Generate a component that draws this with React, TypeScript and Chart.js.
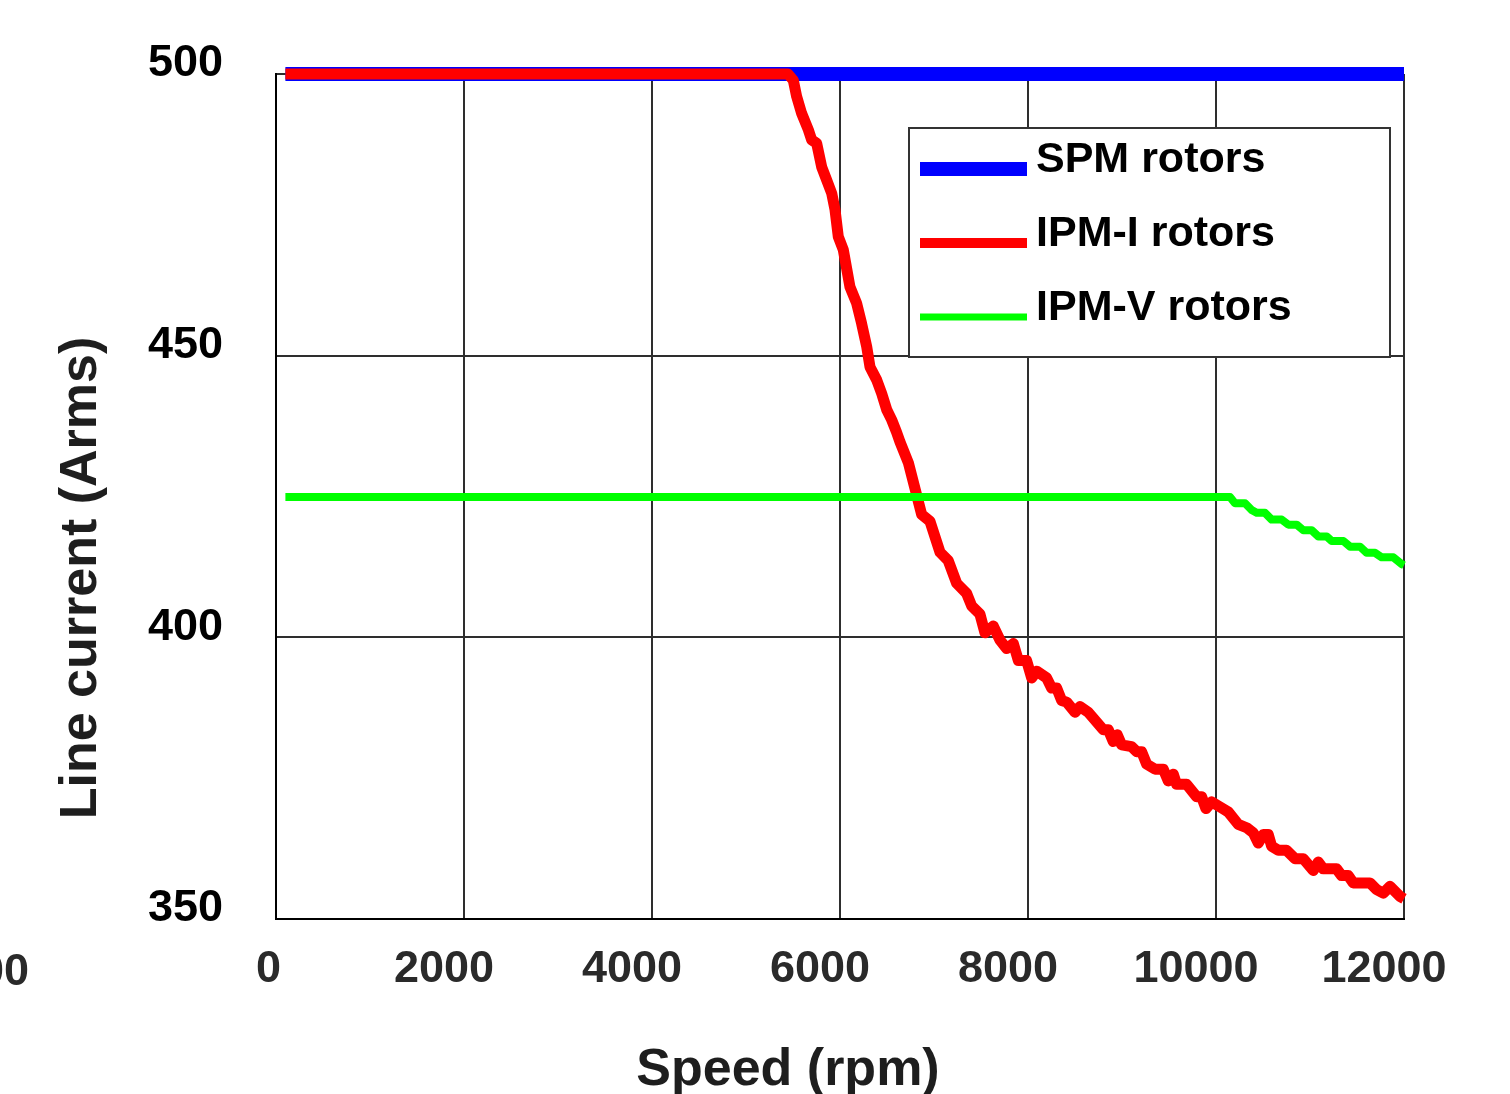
import React, { useEffect, useRef } from "react";
import { Chart, registerables } from "chart.js";

Chart.register(...registerables);

// ---------- data ----------
const seriesLabels = ["SPM rotors", "IPM-I rotors", "IPM-V rotors"];
const seriesColors = ["#0000ff", "#ff0000", "#00ff00"];

const spmSpeed = [100, 12000];
const spmCurrent = [500, 500];

const ipmISpeed = [
  100, 5447, 5503, 5539, 5592, 5663, 5699, 5752, 5805, 5858, 5912, 5947, 5982, 6035, 6106, 6177,
  6230, 6284, 6319, 6390, 6443, 6497, 6550, 6600, 6638, 6727, 6869, 6957, 7064, 7152, 7241, 7347,
  7400, 7489, 7542, 7631, 7702, 7773, 7844, 7897, 7985, 8039, 8092, 8198, 8251, 8305, 8358, 8411,
  8500, 8553, 8641, 8801, 8854, 8907, 8950, 8996, 9102, 9156, 9209, 9262, 9351, 9439, 9493, 9546,
  9581, 9688, 9794, 9847, 9893, 9954, 10042, 10131, 10237, 10326, 10397, 10450, 10503, 10556, 10592,
  10663, 10751, 10840, 10929, 11035, 11088, 11141, 11283, 11336, 11407, 11460, 11638, 11709, 11780,
  11851, 11957, 12000,
];
const ipmICurrent = [
  500, 500, 498.9, 496.0, 493.0, 490.1, 488.3, 487.7, 483.5, 481.2, 478.8, 475.9, 471.1, 468.8, 462.2,
  459.3, 455.7, 451.6, 448.0, 445.7, 443.3, 440.4, 438.6, 436.5, 434.7, 431.0, 421.8, 420.6, 415.1,
  413.6, 409.6, 407.8, 405.6, 404.1, 400.8, 402.0, 399.5, 398.0, 398.9, 395.9, 395.9, 392.8, 394.0,
  392.8, 391.0, 391.0, 388.8, 388.5, 386.7, 387.7, 386.7, 383.6, 383.6, 381.5, 382.7, 380.9, 380.6,
  379.7, 379.7, 377.5, 376.6, 376.6, 374.5, 375.7, 373.9, 373.9, 371.7, 371.7, 369.6, 370.8, 369.9,
  369.0, 366.8, 366.2, 365.3, 363.5, 365.0, 365.0, 362.9, 362.2, 362.2, 360.7, 360.7, 358.6, 360.1,
  358.9, 358.9, 357.7, 357.7, 356.4, 356.4, 355.2, 354.6, 355.8, 354.0, 353.6,
];

const ipmVSpeed = [
  100, 10149, 10202, 10309, 10379, 10433, 10521, 10592, 10699, 10769, 10858, 10929, 11018, 11089,
  11178, 11231, 11355, 11426, 11532, 11603, 11692, 11763, 11887, 11976, 12000,
];
const ipmVCurrent = [
  424.9, 424.9, 423.8, 423.8, 422.6, 422.1, 422.1, 420.9, 420.9, 420.0, 420.0, 419.0, 419.0, 417.9,
  417.9, 417.1, 417.1, 416.1, 416.1, 415.0, 415.0, 414.2, 414.2, 413.0, 412.8,
];

const xMin = 0;
const xMax = 12000;
const xStep = 2000;
const yMin = 350;
const yMax = 500;
const yStep = 50;

const xTitle = "Speed (rpm)";
const yTitle = "Line current (Arms)";
const strayLabel = "00";

const FONT = "'Liberation Sans', Arial, Helvetica, sans-serif";

const pts = (xs: number[], ys: number[]) => xs.map((x, i) => ({ x, y: ys[i] }));

const overlayPlugin = {
  id: "overlay",
  afterDraw(chart: any) {
    const ctx = chart.ctx as CanvasRenderingContext2D;
    ctx.save();
    // axis titles
    ctx.fillStyle = "#1e1e1e";
    ctx.font = `bold 52px ${FONT}`;
    ctx.textAlign = "center";
    ctx.textBaseline = "alphabetic";
    ctx.fillText(xTitle, 788, 1085);
    ctx.save();
    ctx.translate(96, 578);
    ctx.rotate(-Math.PI / 2);
    ctx.fillText(yTitle, 0, 0);
    ctx.restore();

    // stray clipped tick label at the far left
    ctx.font = `bold 45px ${FONT}`;
    ctx.fillStyle = "#2a2a2a";
    ctx.textAlign = "right";
    ctx.fillText(strayLabel, 29, 985);

    // legend box
    const bx = 909, by = 128, bw = 481, bh = 229;
    ctx.fillStyle = "#ffffff";
    ctx.fillRect(bx, by, bw, bh);
    ctx.strokeStyle = "#333333";
    ctx.lineWidth = 2;
    ctx.strokeRect(bx, by, bw, bh);

    const rowY = [169, 243, 317];
    const textY = [172, 246, 320];
    const lw = [14, 10, 7];
    chart.data.datasets.forEach((ds: any, i: number) => {
      ctx.strokeStyle = ds.borderColor;
      ctx.lineWidth = lw[i];
      ctx.lineCap = "butt";
      ctx.beginPath();
      ctx.moveTo(920, rowY[i]);
      ctx.lineTo(1027, rowY[i]);
      ctx.stroke();
      ctx.fillStyle = "#000000";
      ctx.font = `bold 43px ${FONT}`;
      ctx.textAlign = "left";
      ctx.textBaseline = "alphabetic";
      ctx.fillText(ds.label, 1036, textY[i]);
    });
    ctx.restore();
  },
};

export default function App() {
  const ref = useRef<HTMLCanvasElement | null>(null);

  useEffect(() => {
    if (!ref.current) return;
    const chart = new Chart(ref.current, {
      type: "line",
      data: {
        datasets: [
          {
            label: seriesLabels[0],
            data: pts(spmSpeed, spmCurrent),
            borderColor: seriesColors[0],
            backgroundColor: seriesColors[0],
            borderWidth: 14,
            pointRadius: 0,
            order: 3,
            clip: false as any,
            borderCapStyle: "butt",
            borderJoinStyle: "round",
          },
          {
            label: seriesLabels[1],
            data: pts(ipmISpeed, ipmICurrent),
            borderColor: seriesColors[1],
            backgroundColor: seriesColors[1],
            borderWidth: 11,
            pointRadius: 0,
            order: 2,
            clip: false as any,
            borderCapStyle: "butt",
            borderJoinStyle: "round",
          },
          {
            label: seriesLabels[2],
            data: pts(ipmVSpeed, ipmVCurrent),
            borderColor: seriesColors[2],
            backgroundColor: seriesColors[2],
            borderWidth: 8,
            pointRadius: 0,
            order: 1,
            clip: false as any,
            borderCapStyle: "butt",
            borderJoinStyle: "round",
          },
        ],
      },
      options: {
        responsive: false,
        animation: false,
        events: [],
        layout: { padding: { top: 74, right: 106, left: 0, bottom: 0 } },
        plugins: {
          legend: { display: false },
          tooltip: { enabled: false },
          title: { display: false },
        },
        scales: {
          x: {
            type: "linear",
            min: xMin,
            max: xMax,
            ticks: {
              stepSize: xStep,
              autoSkip: false,
              maxRotation: 0,
              padding: 24,
              labelOffset: -20,
              color: "#2a2a2a",
              font: { family: FONT, size: 45, weight: "bold" },
              callback: (v: any) => (v === 0 ? "  0" : String(v)),
            },
            grid: { color: "#2e2e2e", lineWidth: 2, drawTicks: false },
            border: { display: true, color: "#000", width: 2 },
            afterFit: (s: any) => {
              s.height = 175;
              s.paddingLeft = 0;
              s.paddingRight = 0;
            },
          },
          y: {
            type: "linear",
            min: yMin,
            max: yMax,
            ticks: {
              stepSize: yStep,
              padding: 53,
              labelOffset: -10,
              color: "#000",
              font: { family: FONT, size: 45, weight: "bold" },
            },
            grid: { color: "#2e2e2e", lineWidth: 2, drawTicks: false },
            border: { display: true, color: "#000", width: 2 },
            afterFit: (s: any) => {
              s.width = 276;
              s.paddingTop = 0;
              s.paddingBottom = 0;
            },
          },
        },
      },
      plugins: [overlayPlugin],
    });
    return () => chart.destroy();
  }, []);

  return (
    <div style={{ position: "absolute", left: 0, top: 0, width: 1510, height: 1094, background: "#fff" }}>
      <canvas ref={ref} width={1510} height={1094} style={{ display: "block" }} />
    </div>
  );
}
